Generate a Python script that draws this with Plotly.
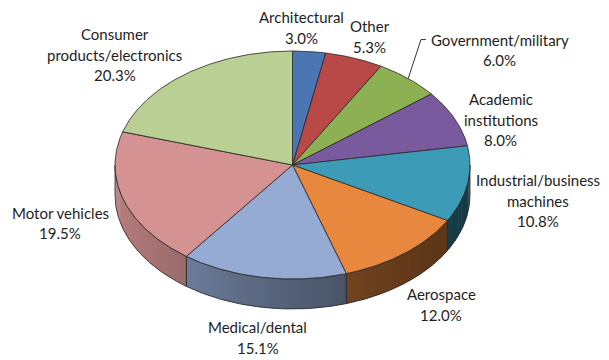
import numpy as np
import plotly.graph_objects as go

# ---------------- data ----------------
categories = ["Architectural", "Other", "Government/military", "Academic institutions",
              "Industrial/business machines", "Aerospace", "Medical/dental",
              "Motor vehicles", "Consumer products/electronics"]
label_lines = [["Architectural"], ["Other"], ["Government/military"],
               ["Academic", "institutions"], ["Industrial/business", "machines"],
               ["Aerospace"], ["Medical/dental"], ["Motor vehicles"],
               ["Consumer", "products/electronics"]]
shares = [3.0, 5.3, 6.0, 8.0, 10.8, 12.0, 15.1, 19.5, 20.3]

# ---------------- style ----------------
colors = ["#4A76B4", "#B94947", "#8DB152", "#7A5A9E", "#3C9BB6",
          "#E8883E", "#95ABD4", "#D49292", "#B9CF94"]
CX, CY, RX, RY, DEPTH = 292.5, 165.0, 177.5, 114.0, 30.0
LCX, LCY, LRX, LRY = 292.5, 168.0, 240.0, 140.0
label_nudge_x = [-14, -6, 51, -11, 9, -3, 5, -4, -35]
label_nudge_y = [-1, 0, -12, 9, 4, 5, 2, 2, -1]
EDGE = "#262626"
FONT = dict(family="Lato, Carlito, 'Open Sans', sans-serif", size=15, color="#1e1e1e")
BODY_OFFSET = 8  # default page margin of the html body


def hex_rgb(h):
    h = h.lstrip("#")
    return np.array([int(h[i:i + 2], 16) for i in (0, 2, 4)], dtype=float)


def arc(a0, a1, dy=0.0, step=0.5):
    n = max(2, int(np.ceil(abs(a1 - a0) / step)) + 1)
    t = np.radians(np.linspace(a0, a1, n))
    return CX + RX * np.sin(t), CY - RY * np.cos(t) + dy


total = sum(shares)
bounds = np.concatenate([[0.0], np.cumsum(shares)]) / total * 360.0

fig = go.Figure()

# ----- side walls (front half only) with left-to-right shading -----
for i, col in enumerate(colors):
    a0, a1 = max(bounds[i], 90.0), min(bounds[i + 1], 270.0)
    if a1 <= a0:
        continue
    base = hex_rgb(col)
    nseg = int(np.ceil((a1 - a0) / 1.5))
    edges = np.linspace(a0, a1, nseg + 1)
    for j in range(nseg):
        t0 = edges[j]
        t1 = min(edges[j + 1] + 0.6, a1)
        s = np.sin(np.radians(0.5 * (t0 + t1)))
        f = 0.56 - 0.24 * s + 0.06 * s * s
        c = np.clip(base * f, 0, 255).astype(int)
        xt, yt = arc(t0, t1, 0, 0.5)
        xb, yb = arc(t1, t0, DEPTH, 0.5)
        fig.add_trace(go.Scatter(
            x=np.concatenate([xt, xb, xt[:1]]), y=np.concatenate([yt, yb, yt[:1]]),
            mode="lines", fill="toself", fillcolor=f"rgb({c[0]},{c[1]},{c[2]})",
            line=dict(width=0), hoverinfo="skip", showlegend=False))
    xt, yt = arc(a0, a1)
    xb, yb = arc(a1, a0, DEPTH)
    fig.add_trace(go.Scatter(
        x=np.concatenate([xt, xb, xt[:1]]), y=np.concatenate([yt, yb, yt[:1]]),
        mode="lines", line=dict(color=EDGE, width=0.8),
        hoverinfo="skip", showlegend=False))

# ----- top faces -----
for i, col in enumerate(colors):
    xa, ya = arc(bounds[i], bounds[i + 1])
    fig.add_trace(go.Scatter(
        x=np.concatenate([[CX], xa, [CX]]), y=np.concatenate([[CY], ya, [CY]]),
        mode="lines", fill="toself", fillcolor=col,
        line=dict(color=EDGE, width=0.8),
        name=categories[i], text=f"{shares[i]:.1f}%",
        hoverinfo="name+text", showlegend=False))

# ----- labels -----
annotations = []
LINE_H = 20.5
for i, lines in enumerate(label_lines):
    mid = np.radians(0.5 * (bounds[i] + bounds[i + 1]))
    lx = LCX + LRX * np.sin(mid) + label_nudge_x[i]
    ly = LCY - LRY * np.cos(mid) + DEPTH * max(0.0, -np.cos(mid)) + label_nudge_y[i]
    all_lines = lines + [f"{shares[i]:.1f}%"]
    n = len(all_lines)
    for k, txt in enumerate(all_lines):
        annotations.append(dict(
            x=lx, y=ly + (k - (n - 1) / 2) * LINE_H, xref="x", yref="y",
            text=txt, showarrow=False, font=FONT, xanchor="center", yanchor="middle"))
    if categories[i] == "Government/military":
        ex, ey = CX + RX * np.sin(mid), CY - RY * np.cos(mid)
        sx, sy = lx - 74, ly - (n - 1) / 2 * LINE_H
        fig.add_trace(go.Scatter(
            x=[sx, sx - 5, ex], y=[sy, sy, ey], mode="lines",
            line=dict(color="#333333", width=1), hoverinfo="skip", showlegend=False))

W, H = 609, 360
fig.update_layout(
    width=W - BODY_OFFSET, height=H - BODY_OFFSET, margin=dict(l=0, r=0, t=0, b=0),
    paper_bgcolor="white", plot_bgcolor="white",
    xaxis=dict(range=[BODY_OFFSET, W], visible=False, fixedrange=True),
    yaxis=dict(range=[H, BODY_OFFSET], visible=False, fixedrange=True),
    annotations=annotations, showlegend=False)

fig.write_html("out.html")
